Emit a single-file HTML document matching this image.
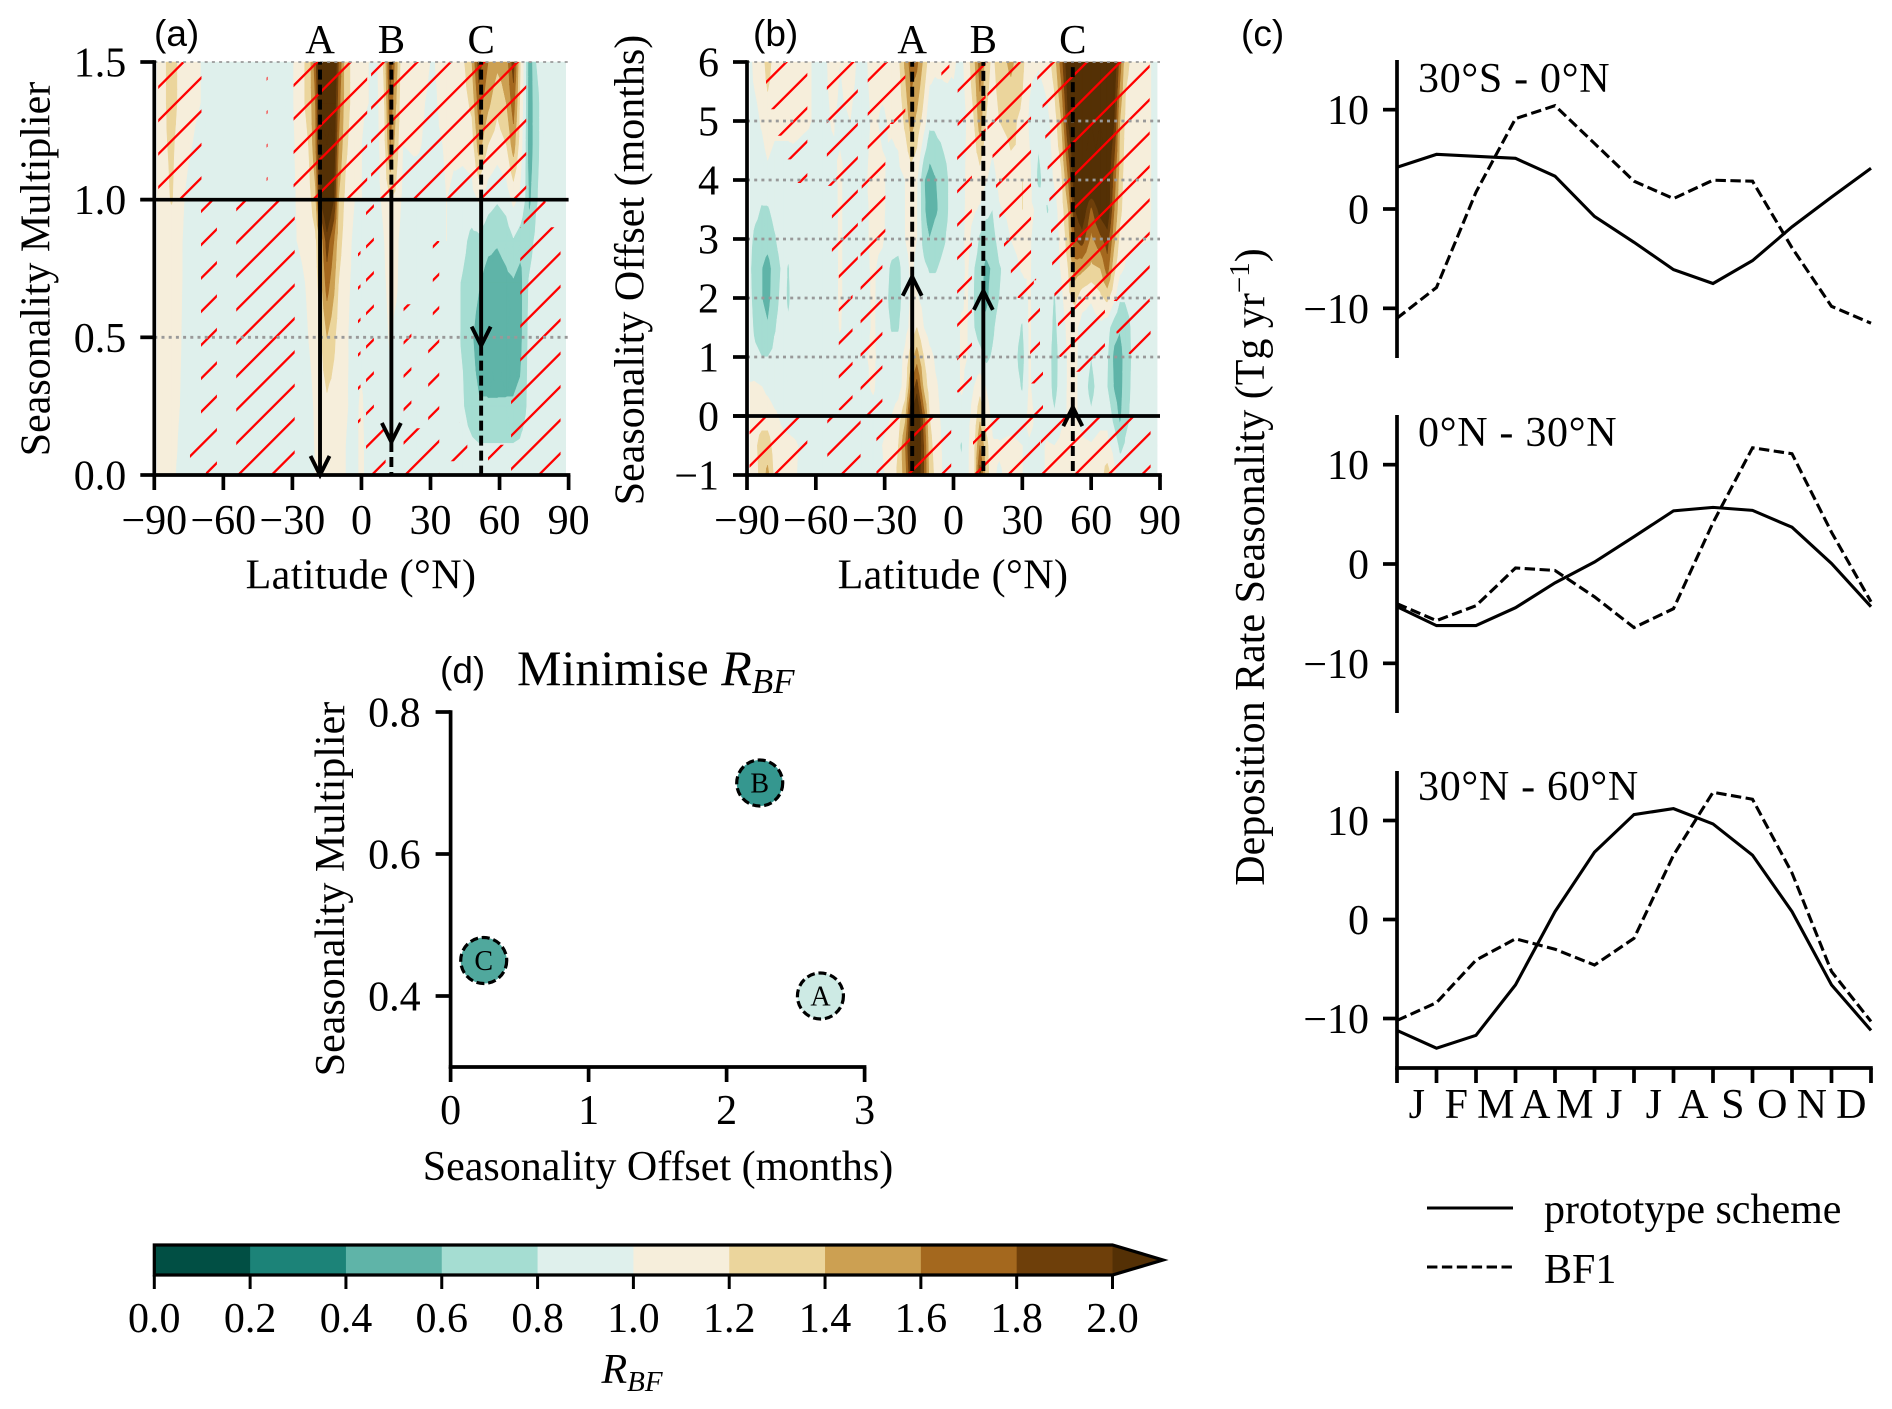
<!DOCTYPE html>
<html lang="en">
<head>
<meta charset="utf-8">
<title>Seasonality of deposition rate</title>
<style>
html,body{margin:0;padding:0;background:#fff;}
svg{display:block;}
text{font-family:"Liberation Serif",serif;fill:#000;}
.t{font-size:42px;}
.sans{font-family:"Liberation Sans",sans-serif;font-size:37px;}
</style>
</head>
<body>
<svg id="fig" xmlns="http://www.w3.org/2000/svg" width="1892" height="1409" viewBox="0 0 1892 1409">
  <rect x="0" y="0" width="1892" height="1409" fill="#fff"/>
  <g id="panelA"></g>
  <g id="panelB"></g>
  <g id="panelC"></g>
  <g id="panelD"></g>
  <g id="cbar"></g>

  <text class="sans" x="154" y="46">(a)</text>
  <text class="sans" x="753" y="46">(b)</text>
  <text class="sans" x="1241" y="46">(c)</text>
  <text class="sans" x="440" y="683">(d)</text>

  <text class="t" text-anchor="middle" transform="translate(49.4 269) rotate(-90)">Seasonality Multiplier</text>
  <text class="t" text-anchor="middle" letter-spacing="0.4" x="361" y="588.5">Latitude (°N)</text>
  <text class="t" text-anchor="middle" transform="translate(643.5 270) rotate(-90)">Seasonality Offset (months)</text>
  <text class="t" text-anchor="middle" letter-spacing="0.4" x="953" y="588.5">Latitude (°N)</text>
  <text class="t" text-anchor="middle" transform="translate(1264 567) rotate(-90)">Deposition Rate Seasonality (Tg yr<tspan font-size="29" dy="-15">−1</tspan><tspan dy="15">)</tspan></text>
  <text class="t" text-anchor="middle" transform="translate(344 889) rotate(-90)">Seasonality Multiplier</text>
  <text class="t" text-anchor="middle" x="658" y="1180">Seasonality Offset (months)</text>
  <text x="517" y="685" font-size="50">Minimise <tspan font-style="italic">R</tspan><tspan font-style="italic" font-size="35" dy="8">BF</tspan></text>
  <text x="632" y="1383" text-anchor="middle" font-size="42"><tspan font-style="italic">R</tspan><tspan font-style="italic" font-size="29" dy="8">BF</tspan></text>

  <g>
    <line x1="1427" x2="1513" y1="1208" y2="1208" stroke="#000" stroke-width="3"/>
    <text class="t" font-size="42" x="1544" y="1223">prototype scheme</text>
    <line x1="1427" x2="1513" y1="1267" y2="1267" stroke="#000" stroke-width="3" stroke-dasharray="10.4 4.5"/>
    <text class="t" x="1544" y="1283">BF1</text>
  </g>
</svg>

<script>
/* ---------- colour scale ---------- */
const bandLevels = [-9, 0.2, 0.4, 0.6, 0.8, 1.0, 1.2, 1.4, 1.6, 1.8, 2.0, 99];
const bandColors = ['#014f44','#1c8378','#5fb4a8','#a5ddd2','#dff0ec','#f6eedb','#ebd59c','#cca052','#a4681e','#6e3f0a','#543005'];
const cbarTicks = ['0.0','0.2','0.4','0.6','0.8','1.0','1.2','1.4','1.6','1.8','2.0'];

/* ---------- panel (a): R_BF on latitude x multiplier ---------- */
const aLat = [-88.75,-86,-82.5,-79,-75,-70,-66, -31,-28,-23,-20,-18,-15,-12,-10,-7,-3, 0,3,7,10,12.5,15,18,24,31, 37,44,48,51,55,59,63,66,69,71,73,76,80,88.75];
const aMult = [0,0.1,0.25,0.5,0.7,0.85,1,1.2,1.35,1.5];
const aField = [
[1.05,1.05,1.05,.95,.9,.9,.9, .9,.9,.92,1.0,1.05,1.08,1.05,1.03,1.0,.93, 1.05,.9,.9,.9,.92,.9,.9,.9,.9, .9,.9,.9,.9,.9,.9,.9,.9,.9,.9,.9,.9,.9,.9],
[1.05,1.05,1.05,.98,.9,.9,.9, .9,.9,.93,1.01,1.06,1.1,1.06,1.03,1.0,.93, 1.05,.9,.9,.9,.92,.9,.9,.9,.9, .9,.9,.85,.82,.82,.82,.82,.82,.84,.88,.9,.9,.9,.9],
[1.05,1.05,1.05,1.0,.9,.9,.9, .9,.9,.95,1.02,1.08,1.15,1.1,1.05,1.02,.95, 1.03,.9,.9,.9,.95,.9,.9,.9,.9, .9,.82,.66,.62,.62,.62,.62,.62,.66,.76,.86,.9,.9,.9],
[1.05,1.05,1.05,1.02,.9,.9,.9, .9,.92,1.0,1.05,1.15,1.4,1.25,1.1,1.03,.93, .93,.9,.9,.95,1.02,.95,.9,.9,.9, .9,.78,.62,.5,.45,.45,.47,.48,.52,.72,.85,.9,.9,.9],
[1.05,1.05,1.05,1.03,.92,.9,.9, .9,.95,1.02,1.1,1.3,1.7,1.45,1.2,1.05,.95, .93,.9,.9,.98,1.05,1.03,.9,.9,.9, .92,.78,.7,.62,.5,.5,.55,.58,.5,.72,.82,.9,.9,.9],
[1.05,1.05,1.05,1.03,.93,.9,.9, .9,1.0,1.05,1.15,1.4,1.9,1.6,1.3,1.1,.95, .93,.9,.9,1.0,1.1,1.05,.9,.9,.9, 1.0,.85,.74,.75,.66,.62,.68,.78,.7,.65,.72,.85,.9,.9],
[1.02,1.1,1.22,1.05,.95,.9,.9, .9,1.02,1.1,1.35,2.0,2.35,2.0,1.4,1.15,1.0, 1.0,.95,.95,1.05,1.2,1.15,.95,.92,.92, 1.0,.92,.92,1.02,.88,.82,.88,1.05,.95,.8,.55,.78,.9,.9],
[1.05,1.15,1.25,1.1,1.02,.95,.9, .9,1.05,1.2,1.55,2.15,2.45,2.15,1.6,1.25,1.05, 1.0,.95,.95,1.15,1.6,1.3,1.0,1.02,.95, 1.02,1.05,1.1,1.5,1.2,1.1,1.2,1.5,1.1,.85,.45,.75,.9,.9],
[1.1,1.15,1.3,1.15,1.05,1.0,.9, .9,1.1,1.25,1.6,2.2,2.5,2.2,1.7,1.3,1.1, 1.02,1.0,.97,1.2,1.75,1.4,1.0,1.05,.95, 1.1,1.1,1.25,1.7,1.45,1.25,1.4,1.7,1.15,.88,.45,.75,.9,.9],
[1.1,1.15,1.3,1.15,1.1,1.0,.9, .9,1.1,1.25,1.7,2.3,2.6,2.3,1.8,1.3,1.1, 1.05,1.0,1.0,1.25,1.9,1.5,1.0,1.1,.98, 1.1,1.15,1.4,1.9,1.6,1.45,1.5,1.9,1.2,.9,.45,.8,.9,.9]
];
/* not-significant regions: lat from, lat to, multiplier from, multiplier to */
const aHatch = [
[-88.3,-69.5,1,1.5],[-41.2,-40.8,1,1.5],[-29.5,2.5,1,1.5],[4.2,71.6,1,1.5],
[-69.7,-62.8,.18,1],[-74.5,-62.8,.06,.18],[-67.6,-62.8,0,.06],[-54.4,-29,0,1],
[-1.5,-.4,.1,.9],[2,5.4,.17,1],[2,10.5,0,.17],[18.3,21.7,.15,.62],[18.3,33.8,0,.17],
[29,33.8,.17,.5],[31,33.8,.5,.85],[42.4,46,.07,.19],[36,46,.05,.1],[55,62,.05,.11],
[65,69,0,.3],[69,86.5,0,.9],[70.5,80,.9,1]
];
const aGridValues = [0.5,1.5];
const aYTicks = [0,0.5,1,1.5];
const aYTickLabels = ['0.0','0.5','1.0','1.5'];
const aArrowTips = [0,0.12,0.47];

/* ---------- panel (b): R_BF on latitude x offset ---------- */
const bLat = [-88.75,-86.5,-83.5,-81,-78,-74,-72,-70,-64,-57, -53,-49.5,-45,-40,-35,-31,-27,-24,-21,-18.5, -16,-13,-10.5,-8,-4,0,3.5,6,9,11.5, 14,17,20,25,30,33,37,41,44,47, 50,53,56,60,64,67,70,72.5,75,80,85.5,88.75];
const bOffset = [-1,-0.5,0,0.5,1,1.5,2,2.5,3,3.5,4,5,6];
const bField = [
[1.0,1.1,1.3,1.45,1.15,1.05,1.05,1.02,.95,.9, .9,.9,.9,.9,.92,.98,1.05,1.25,1.5,2.0, 2.2,1.8,1.35,1.15,.95,.9,.85,.95,1.15,1.9, 1.35,1.02,.98,1.05,1.0,.95,.95,1.02,1.02,1.03, 1.1,1.15,1.05,1.05,1.1,1.3,1.05,.92,.9,.9,.9,.9],
[1.02,1.15,1.3,1.3,1.1,1.05,1.05,1.03,.95,.9, .92,.92,.92,.92,.92,1.0,1.1,1.2,1.6,2.1, 2.3,1.8,1.3,1.1,.95,.9,.78,.95,1.15,1.6, 1.3,1.02,1.02,1.05,1.0,.98,.95,1.02,1.0,1.05, 1.1,1.15,1.05,1.02,1.1,1.05,.92,.75,.82,.9,.9,.9],
[1.05,1.1,1.1,1.1,1.03,.95,.92,.92,.9,.9, .9,.9,.9,.92,.95,.92,1.0,1.1,1.35,2.0, 2.3,1.7,1.2,1.05,.95,.9,.95,.95,1.05,1.35, 1.1,.95,.9,.9,.9,1.05,.95,.9,.82,.95, 1.02,1.05,.9,.82,.9,.95,.72,.55,.75,.9,.9,.9],
[1.02,1.03,1.0,.95,.9,.9,.9,.9,.9,.9, .9,.92,.92,.95,1.02,.9,.9,.92,1.08,1.6, 1.9,1.35,1.1,1.02,.95,.9,1.02,.95,1.0,1.12, 1.0,.9,.9,.9,.78,1.02,.9,.9,.72,.9, 1.02,1.05,.88,.75,.88,.8,.58,.5,.72,.9,.9,.9],
[.9,.85,.8,.8,.85,.9,.9,.9,.9,.9, .9,.95,.9,.98,1.02,.95,.9,.92,1.05,1.3, 1.5,1.2,1.05,.98,.93,.9,1.02,1.0,.88,.85, .75,.82,.9,.9,.72,1.02,.9,.9,.7,.9, 1.02,1.05,.9,.8,.9,.82,.55,.5,.7,.9,.9,.9],
[.88,.75,.7,.62,.78,.9,.85,.9,.9,.9, .92,1.01,.92,.92,1.02,.92,.78,.78,.93,1.05, 1.2,1.0,.92,.9,.9,.9,1.02,1.0,.8,.72, .68,.76,.88,.9,.78,1.02,.9,.9,.75,.9, 1.05,1.05,.92,.9,.95,.88,.68,.62,.72,.9,.9,.9],
[.85,.7,.6,.52,.72,.88,.75,.9,.9,.9, .92,1.02,.92,.92,1.02,.92,.72,.72,.92,1.02, 1.02,.93,.9,.9,.9,.9,.98,1.02,.78,.66, .52,.7,.8,.9,.9,1.02,.9,.9,.78,.95, 1.15,1.25,1.08,1.02,1.15,1.25,1.05,.82,.82,.9,.9,.9],
[.83,.68,.6,.5,.7,.85,.78,.88,.9,.9, .92,1.02,.92,.95,1.02,.95,.75,.72,.95,1.02, .97,.85,.78,.78,.85,.9,.95,1.03,.8,.7, .55,.62,.78,.9,1.02,1.02,.9,.9,.9,1.02, 1.2,1.5,1.45,1.35,1.4,1.7,1.25,1.05,.98,.95,.92,.9],
[.85,.75,.72,.7,.78,.9,.9,.9,.9,.9, .93,1.02,.92,.95,1.03,1.02,.92,.9,1.0,1.03, 1.0,.72,.6,.7,.78,.9,.95,1.05,.92,.76, .7,.72,.88,1.0,1.08,1.02,.92,.92,.9,1.05, 1.3,1.8,1.9,1.55,1.75,1.9,1.45,1.15,1.05,1.02,1.0,.9],
[.88,.85,.78,.78,.85,.9,.9,.9,.9,.9, .93,1.02,.92,.95,1.03,1.02,.95,.95,1.0,1.05, 1.0,.65,.45,.55,.72,.9,.92,1.05,1.02,.98, .85,.8,.98,1.05,1.2,1.05,.95,.78,.92,1.1, 1.4,2.0,2.2,1.75,2.1,2.2,1.6,1.25,1.1,1.05,1.02,.9],
[.9,.9,.9,.95,.9,.9,.9,.92,.9,.9, .95,1.02,.92,.95,1.05,1.02,.95,.95,1.0,1.08, 1.02,.62,.5,.58,.72,.9,.9,1.05,1.05,1.1, 1.02,.92,1.05,1.15,1.2,1.05,.75,.9,1.02,1.15, 1.6,2.2,2.4,2.4,2.4,2.2,1.7,1.3,1.1,1.05,1.02,.9],
[.95,.95,1.02,1.1,1.05,1.05,1.05,1.05,1.02,.95, 1.01,.98,1.0,.93,1.02,.98,1.02,1.05,1.25,1.5, 1.35,1.1,.85,.85,.9,.95,.9,1.02,1.2,1.5, 1.2,1.1,1.2,1.25,1.15,.97,.85,.95,1.1,1.4, 2.0,2.3,2.4,2.4,2.4,2.3,2.0,1.4,1.15,1.05,1.02,.9],
[.95,1.05,1.1,1.3,1.1,1.05,1.05,1.05,1.02,.95, 1.05,1.0,1.05,.95,1.05,1.05,1.05,1.15,1.45,1.7, 1.65,1.35,1.1,1.05,1.05,1.02,.95,1.1,1.35,1.7, 1.3,1.15,1.3,1.45,1.25,1.05,1.02,1.1,1.3,1.7, 2.2,2.3,2.4,2.4,2.4,2.4,2.2,1.7,1.25,1.1,1.02,.9]
];
/* not-significant regions: lat from, lat to, offset from, offset to */
const bHatch = [
[-81.7,-63.7,5.2,6],[-77.5,-63.7,4.75,5.2],[-73,-63.7,4.35,4.75],[-69,-63.7,3.95,4.35],
[-55.2,-41.7,3.9,6],[-53,-41.7,2.4,3.9],[-50,-44,.1,2.4],
[-37.4,-21,4.95,6],[-37.4,-27.8,4.4,4.95],[-40,-29.7,3,4.4],[-40.5,-31,0,3],
[-5.3,-1.8,5.7,6],[1.8,14,4.6,6],[1.6,8,.4,4.6],
[14.8,33.8,4.7,6],[17,33.8,4.2,4.7],[18.5,33.8,3.65,4.2],[20,33.8,3.15,3.65],[22,33.8,2.65,3.15],
[25,36,2.3,2.65],[28,35,2,2.3],[32.6,37.7,1.55,2],[33.4,37.7,1.05,1.55],[33.4,39,.55,1.05],[34,39,0,.4],
[36.5,85.5,5.4,6],[38.8,85.5,4.9,5.4],[40,85.5,4.4,4.9],[41,85.5,3.85,4.4],[41.8,85.5,3.3,3.85],
[42.5,85.5,2.75,3.3],[43,85.5,2.3,2.75],[44,85.5,1.95,2.3],[45.5,66,1,1.95],[52.5,61.5,.75,1.1],
[71,85.9,1.4,1.95],[76.4,85.9,1.05,1.4],
[-88.9,-63.7,-1,0],[-55,-40.5,-1,0],[-33.6,-1,-1,0],[8.5,37.7,-1,0],[38,85.9,-1,0]
];
const bGridValues = [1,2,3,4,5,6];
const bYTicks = [-1,0,1,2,3,4,5,6];
const bYTickLabels = ['−1','0','1','2','3','4','5','6'];
const bArrowTips = [2.36,2.12,0.15];

/* ---------- shared latitude axis and transects ---------- */
const latTicks = [-90,-60,-30,0,30,60,90];
const latTickLabels = ['−90','−60','−30','0','30','60','90'];
const siteNames = ['A','B','C'];
const siteLats = [-18,13,52];

/* ---------- panel (c): regional seasonality ---------- */
const months = ['J','F','M','A','M','J','J','A','S','O','N','D'];
const cYTicks = [-10,0,10];
const cYTickLabels = ['−10','0','10'];
const regionNames = ['30°S - 0°N','0°N - 30°N','30°N - 60°N'];
const prototype30S0N = [4.2,5.5,5.3,5.1,3.3,-0.75,-3.35,-6.1,-7.5,-5.2,-1.8,1.2,4.1];
const bf130S0N = [-11,-7.9,1.7,9.1,10.4,6.6,2.8,1.05,2.9,2.8,-3.9,-9.8,-11.5];
const prototype0N30N = [-4.3,-6.2,-6.2,-4.4,-1.9,0.2,2.75,5.35,5.7,5.4,3.7,0.05,-4.3];
const bf10N30N = [-4,-5.7,-4.2,-0.4,-0.65,-3.3,-6.4,-4.5,4.15,11.7,11.1,3.2,-3.8];
const prototype30N60N = [-11.2,-13,-11.7,-6.6,0.8,6.8,10.6,11.2,9.65,6.5,0.8,-6.6,-11.2];
const bf130N60N = [-10.2,-8.4,-4.1,-1.95,-3,-4.6,-1.9,6.5,12.85,12.15,4.7,-5.25,-10.3];

/* ---------- panel (d): minimum R_BF per site ---------- */
const dOffsets = [2.68,2.24,0.24];
const dMultipliers = [0.4,0.7,0.45];
const dColors = ['#cdeae4','#35978f','#50a89d'];
const dXTicks = [0,1,2,3];
const dYTicks = [0.4,0.6,0.8];
const dYTickLabels = ['0.4','0.6','0.8'];

/* ---------- helpers ---------- */
const NS = 'http://www.w3.org/2000/svg';
const SPINE = 3.7;
const TRANSECT = 3.9;
const CURVE = 3.1;
function mk(tag, attrs, parent){
  const e = document.createElementNS(NS, tag);
  for (const k in attrs) e.setAttribute(k, attrs[k]);
  parent.appendChild(e);
  return e;
}
function linear(d0,d1,r0,r1){ return v => r0 + (v-d0)*(r1-r0)/(d1-d0); }
function f(n){ return Math.round(n*100)/100; }

function clipTri(poly, level, above){
  const out = [];
  for (let i=0;i<poly.length;i++){
    const a = poly[i], b = poly[(i+1)%poly.length];
    const ia = above ? a[2]>=level : a[2]<=level;
    const ib = above ? b[2]>=level : b[2]<=level;
    if (ia) out.push(a);
    if (ia!==ib){
      const t = (level-a[2])/(b[2]-a[2]);
      out.push([a[0]+t*(b[0]-a[0]), a[1]+t*(b[1]-a[1]), level]);
    }
  }
  return out;
}

function contourf(parent, lats, rows, field, sx, sy){
  const paths = bandColors.map(()=> []);
  for (let r=0;r<rows.length-1;r++){
    for (let c=0;c<lats.length-1;c++){
      const p00=[sx(lats[c]),sy(rows[r]),field[r][c]];
      const p10=[sx(lats[c+1]),sy(rows[r]),field[r][c+1]];
      const p11=[sx(lats[c+1]),sy(rows[r+1]),field[r+1][c+1]];
      const p01=[sx(lats[c]),sy(rows[r+1]),field[r+1][c]];
      const m=[(p00[0]+p10[0])/2,(p00[1]+p01[1])/2,(p00[2]+p10[2]+p11[2]+p01[2])/4];
      const tris=[[p00,p10,m],[p10,p11,m],[p11,p01,m],[p01,p00,m]];
      for (const tri of tris){
        for (let b=0;b<bandColors.length;b++){
          let poly = clipTri(tri, bandLevels[b], true);
          if (poly.length<3) continue;
          poly = clipTri(poly, bandLevels[b+1], false);
          if (poly.length<3) continue;
          paths[b].push('M'+poly.map(q=>f(q[0])+' '+f(q[1])).join('L')+'Z');
        }
      }
    }
  }
  bandColors.forEach((col,b)=>{
    if (!paths[b].length) return;
    const band = mk('path',{d:paths[b].join(''),fill:col,stroke:col,'stroke-width':0.5},parent);
    
    
  });
}

function hatch(parent, id, regions, sx, sy, xMin, xMax, yMin, yMax, phase){
  const cp = mk('clipPath',{id:id},parent);
  regions.forEach(h=>{
    mk('rect',{x:f(sx(h[0])),y:f(sy(h[3])),width:f(sx(h[1])-sx(h[0])),height:f(sy(h[2])-sy(h[3]))},cp);
  });
  const step = 33.4;
  let d = '';
  for (let c = phase; c <= xMax+yMax+step; c += step){
    d += 'M'+f(xMin)+' '+f(c-xMin)+'L'+f(xMax)+' '+f(c-xMax);
  }
  for (let c = phase-step; c >= xMin+yMin-step; c -= step){
    d += 'M'+f(xMin)+' '+f(c-xMin)+'L'+f(xMax)+' '+f(c-xMax);
  }
  const lines = mk('path',{d:d,stroke:'#ff0000','stroke-width':2.3,fill:'none','clip-path':'url(#'+id+')'},parent);
  
  
}

function tickLabel(parent, x, y, txt, anchor, name){
  const t = mk('text',{x:f(x),y:f(y),'text-anchor':anchor,'font-size':42},parent);
  t.textContent = txt;
  
  
  return t;
}
function seg(parent,x1,y1,x2,y2,w,name,dash){
  const a = {x1:f(x1),y1:f(y1),x2:f(x2),y2:f(y2),stroke:'#000','stroke-width':w};
  if (dash) a['stroke-dasharray']=dash;
  const l = mk('line',a,parent);
  
  
  return l;
}

function heatPanel(cfg){
  const g = cfg.g;
  const sx = linear(-90,90,cfg.x0,cfg.x1);
  const sy = linear(cfg.yMin,cfg.yMax,cfg.y0,cfg.y1);
  contourf(g,cfg.lats,cfg.rows,cfg.field,sx,sy);
  hatch(g,cfg.id,cfg.hatch,sx,sy,cfg.x0,cfg.x1,cfg.y1,cfg.y0,cfg.phase);
  cfg.grid.forEach(v=>{
    const l = mk('line',{x1:f(cfg.x0),x2:f(cfg.x1),y1:f(sy(v)),y2:f(sy(v)),stroke:'#999','stroke-width':v===cfg.yMax?1.8:2.8,'stroke-dasharray':'3 4.2'},g);
    
    
  });
  seg(g,cfg.x0-14,sy(cfg.ref),cfg.x1,sy(cfg.ref),SPINE,'reference-line');
  /* transects with arrows */
  siteLats.forEach((lat,i)=>{
    const x = sx(lat), tip = cfg.tips[i];
    seg(g,x,sy(cfg.ref),x,sy(tip),TRANSECT,'transect-arrow-shaft-'+siteNames[i]);
    const farEnd = tip<cfg.ref ? cfg.yMin : cfg.yMax;
    const otherEnd = tip<cfg.ref ? cfg.yMax : cfg.yMin;
    seg(g,x,sy(tip),x,sy(farEnd),TRANSECT,'transect-dashes-tip-'+siteNames[i],'10 5');
    seg(g,x,sy(cfg.ref),x,sy(otherEnd),TRANSECT,'transect-dashes-base-'+siteNames[i],'10 5');
    const dir = tip<cfg.ref ? -1 : 1;
    const ty = sy(tip);
    const head = mk('path',{d:'M'+f(x-9.5)+' '+f(ty+dir*19)+'L'+f(x)+' '+f(ty)+'L'+f(x+9.5)+' '+f(ty+dir*19),fill:'none',stroke:'#000','stroke-width':TRANSECT},g);
    
    
    const lab = mk('text',{x:f(x),y:53,'text-anchor':'middle','font-size':41},g);
    lab.textContent = siteNames[i];
    
    
  });
  /* axes */
  seg(g,cfg.x0,cfg.y1-1.8,cfg.x0,cfg.y0+1.8,SPINE,'y-axis-line');
  seg(g,cfg.x0-1.8,cfg.y0,cfg.x1+1.8,cfg.y0,SPINE,'x-axis-line');
  latTicks.forEach((v,i)=>{
    seg(g,sx(v),cfg.y0,sx(v),cfg.y0+15,SPINE,'x-tick');
    tickLabel(g,sx(v),534,latTickLabels[i],'middle','x-tick-label');
  });
  cfg.yTicks.forEach((v,i)=>{
    seg(g,cfg.x0-14,sy(v),cfg.x0,sy(v),SPINE,'y-tick');
    tickLabel(g,cfg.x0-28,sy(v)+14.5,cfg.yLabels[i],'end','y-tick-label');
  });
}

heatPanel({g:document.getElementById('panelA'),id:'hatch-a',x0:154.3,x1:568.6,y0:475,y1:62,yMin:0,yMax:1.5,
  lats:aLat,rows:aMult,field:aField,hatch:aHatch,phase:245.6,grid:aGridValues,ref:1,tips:aArrowTips,yTicks:aYTicks,yLabels:aYTickLabels});
heatPanel({g:document.getElementById('panelB'),id:'hatch-b',x0:747,x1:1160,y0:475,y1:62,yMin:-1,yMax:6,
  lats:bLat,rows:bOffset,field:bField,hatch:bHatch,phase:848.4,grid:bGridValues,ref:0,tips:bArrowTips,yTicks:bYTicks,yLabels:bYTickLabels});

/* ---------- panel (c) ---------- */
(function(){
  const g = document.getElementById('panelC');
  const x0 = 1397, x1 = 1871;
  const sx = linear(0,12,x0,x1);
  const axes = [
    {top:60,bottom:358,label:92,solid:prototype30S0N,dash:bf130S0N,name:'30s-0n'},
    {top:415,bottom:713,label:446,solid:prototype0N30N,dash:bf10N30N,name:'0n-30n'},
    {top:771,bottom:1068,label:800,solid:prototype30N60N,dash:bf130N60N,name:'30n-60n'}
  ];
  axes.forEach((a,idx)=>{
    const sy = linear(-15,15,a.bottom,a.top);
    const toPts = arr => arr.map((v,i)=>f(sx(i))+','+f(sy(v))).join(' ');
    const solid = mk('polyline',{points:toPts(a.solid),fill:'none',stroke:'#000','stroke-width':CURVE},g);
    
    
    const dash = mk('polyline',{points:toPts(a.dash),fill:'none',stroke:'#000','stroke-width':CURVE,'stroke-dasharray':'10.4 4.5'},g);
    
    
    seg(g,x0,a.top,x0,a.bottom+(idx===2?1.8:0),SPINE,'y-axis-line');
    cYTicks.forEach((v,i)=>{
      seg(g,x0-14,sy(v),x0,sy(v),SPINE,'y-tick');
      tickLabel(g,x0-28,sy(v)+14.5,cYTickLabels[i],'end','y-tick-label');
    });
    const rl = mk('text',{x:1418,y:a.label,'font-size':42,'letter-spacing':0.7},g);
    rl.textContent = regionNames[idx];
    
    
  });
  const yb = 1068;
  seg(g,x0-1.8,yb,x1+1.8,yb,SPINE,'x-axis-line');
  for (let i=0;i<=12;i++){ seg(g,sx(i),yb,sx(i),yb+15,SPINE,'x-tick'); }
  months.forEach((m,i)=>{
    tickLabel(g,sx(i+0.5),1118,m,'middle','month-label');
  });
})();

/* ---------- panel (d) ---------- */
(function(){
  const g = document.getElementById('panelD');
  const x0=450.6,x1=864.6,y0=1067,y1=712;
  const sx = linear(0,3,x0,x1);
  const sy = linear(0.3,0.8,y0,y1);
  seg(g,x0,y1-1.8,x0,y0+1.8,SPINE,'y-axis-line');
  seg(g,x0-1.8,y0,x1+1.8,y0,SPINE,'x-axis-line');
  dXTicks.forEach(v=>{
    seg(g,sx(v),y0,sx(v),y0+15,SPINE,'x-tick');
    tickLabel(g,sx(v),1124,String(v),'middle','x-tick-label');
  });
  dYTicks.forEach((v,i)=>{
    seg(g,x0-15,sy(v),x0,sy(v),SPINE,'y-tick');
    tickLabel(g,x0-30,sy(v)+14.5,dYTickLabels[i],'end','y-tick-label');
  });
  dOffsets.forEach((o,i)=>{
    const c = mk('circle',{cx:f(sx(o)),cy:f(sy(dMultipliers[i])),r:23,fill:dColors[i],stroke:'#000','stroke-width':3.2,'stroke-dasharray':'8 3.8'},g);
    
    
    const t = mk('text',{x:f(sx(o)),y:f(sy(dMultipliers[i])+9.5),'text-anchor':'middle','font-size':28},g);
    t.textContent = siteNames[i];
    
    
  });
})();

/* ---------- colour bar ---------- */
(function(){
  const g = document.getElementById('cbar');
  const x0=154.3,x1=1112.5,yt=1245,yb=1275;
  const sx = linear(0,2,x0,x1);
  for (let i=0;i<10;i++){
    const r = mk('rect',{x:f(sx(i*0.2)),y:yt,width:f(sx(0.2)-sx(0))+0.5,height:yb-yt,fill:bandColors[i]},g);
    
    
  }
  const tip = mk('path',{d:'M'+x1+' '+yt+'L1163 '+((yt+yb)/2)+'L'+x1+' '+yb+'Z',fill:bandColors[10]},g);
  
  
  const outline = mk('path',{d:'M'+x0+' '+yt+'L'+x1+' '+yt+'L1163 '+((yt+yb)/2)+'L'+x1+' '+yb+'L'+x0+' '+yb+'Z',fill:'none',stroke:'#000','stroke-width':3.2},g);
  
  
  cbarTicks.forEach(lbl=>{
    const v = parseFloat(lbl);
    seg(g,sx(v),yb,sx(v),yb+14,3,'colorbar-tick');
    tickLabel(g,sx(v),1332,lbl,'middle','colorbar-tick-label');
  });
})();
</script>
</body>
</html>
